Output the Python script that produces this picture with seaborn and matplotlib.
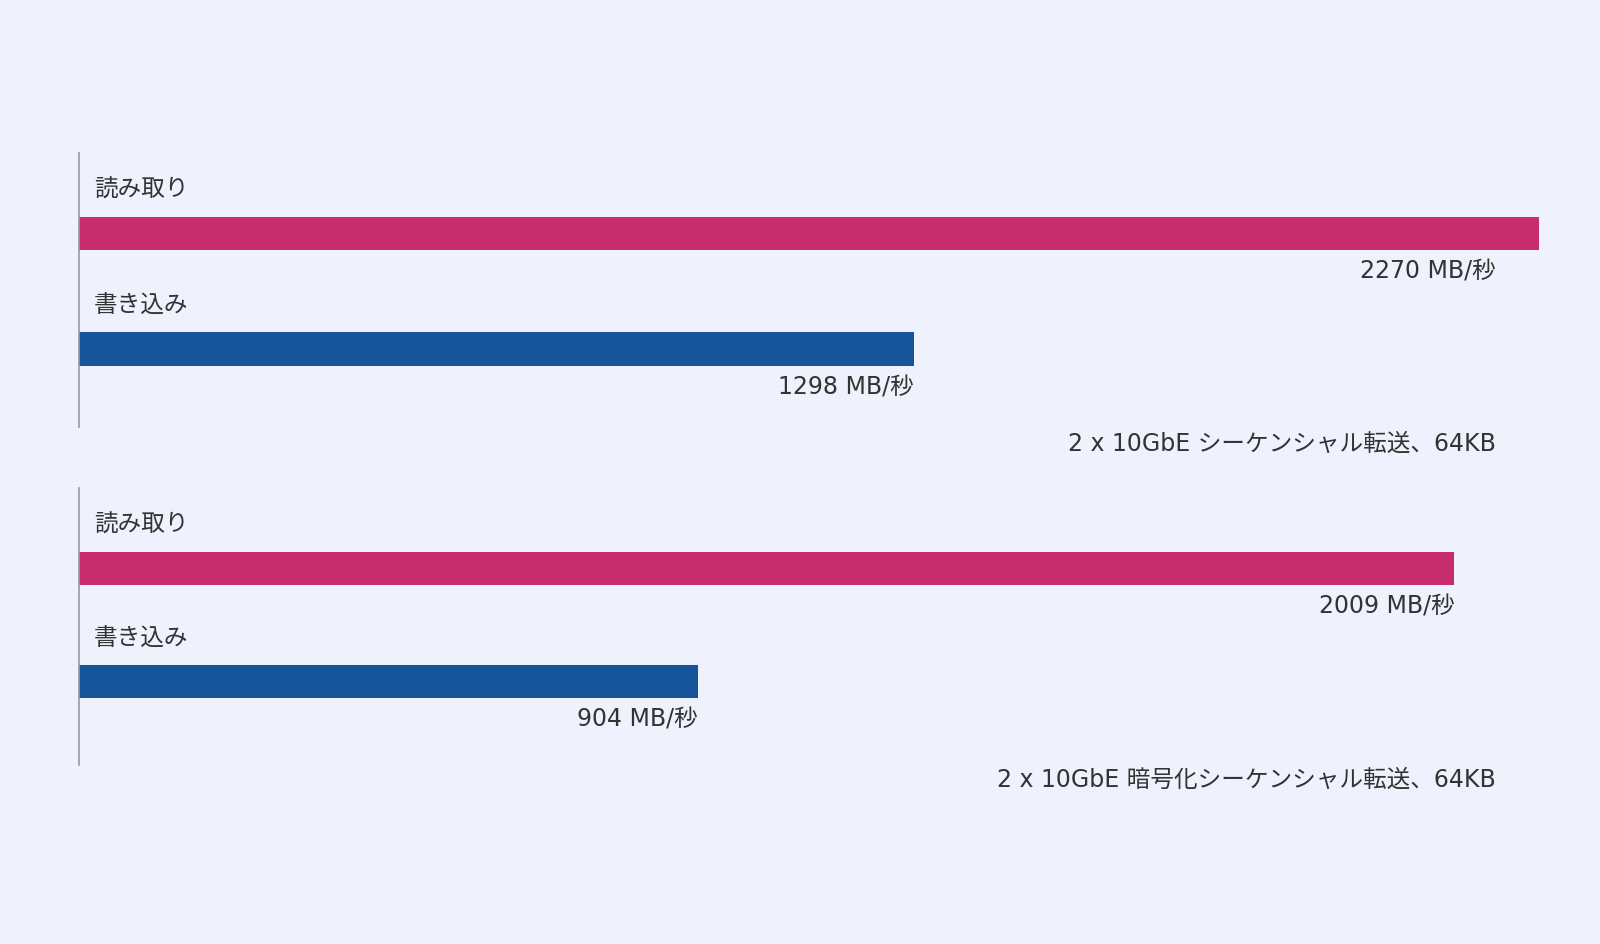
import matplotlib
matplotlib.use("Agg")
import matplotlib.pyplot as plt
import seaborn as sns
import pandas as pd

# ---- data ----
categories = ["読み取り", "書き込み"]
plain_values = [2270, 1298]
encrypted_values = [2009, 904]
unit = "MB/秒"
panel_titles = ["2 x 10GbE シーケンシャル転送、64KB",
                "2 x 10GbE 暗号化シーケンシャル転送、64KB"]
colors = ["#C72C6B", "#17559A"]

sns.set_theme(style="white")
plt.rcParams["font.family"] = ["DejaVu Sans", "Noto Sans CJK JP"]

BG = "#EFF2FC"
TXT = "#333333"
FS = 17
W, H = 1600, 944
fig = plt.figure(figsize=(W / 100, H / 100), dpi=100, facecolor=BG)

left_px, right_px = 79, 1590
panels = [
    dict(vals=plain_values, top=153, bot=427, ylim=(1.675, -0.697), xmax=2350, title=panel_titles[0], ty=444),
    dict(vals=encrypted_values, top=488, bot=765, ylim=(1.739, -0.712), xmax=2207, title=panel_titles[1], ty=780),
]
label_clamp_px = 1496

for p in panels:
    ax = fig.add_axes([left_px / W, 1 - p["bot"] / H, (right_px - left_px) / W, (p["bot"] - p["top"]) / H])
    ax.set_facecolor(BG)
    df = pd.DataFrame({"cat": categories, "val": p["vals"]})
    sns.barplot(data=df, x="val", y="cat", hue="cat", palette=colors, order=categories,
                hue_order=categories, orient="h", width=0.29, ax=ax, legend=False,
                saturation=1, linewidth=0)
    ax.set_xlim(0, p["xmax"])
    ax.set_ylim(*p["ylim"])
    ax.set_xticks([])
    ax.set_yticks([])
    ax.set_xlabel("")
    ax.set_ylabel("")
    for s in ["top", "right", "bottom"]:
        ax.spines[s].set_visible(False)
    ax.spines["left"].set_color("#9a9a9a")
    ax.spines["left"].set_linewidth(1.2)

    units_per_px = p["xmax"] / (right_px - left_px)
    clamp_val = (label_clamp_px - left_px) * units_per_px
    for i, (c, v) in enumerate(zip(categories, p["vals"])):
        ax.annotate(c, xy=(0, i), xytext=(15, 44), textcoords="offset pixels",
                    ha="left", va="center", fontsize=FS, color=TXT)
        ax.annotate(f"{v} {unit}", xy=(min(v, clamp_val), i), xytext=(0, -38),
                    textcoords="offset pixels", ha="right", va="center",
                    fontsize=FS, color=TXT, annotation_clip=False)

    fig.text(1496 / W, 1 - p["ty"] / H, p["title"], ha="right", va="center",
             fontsize=FS, color=TXT)

fig.savefig("out.png", dpi=100, facecolor=BG)
